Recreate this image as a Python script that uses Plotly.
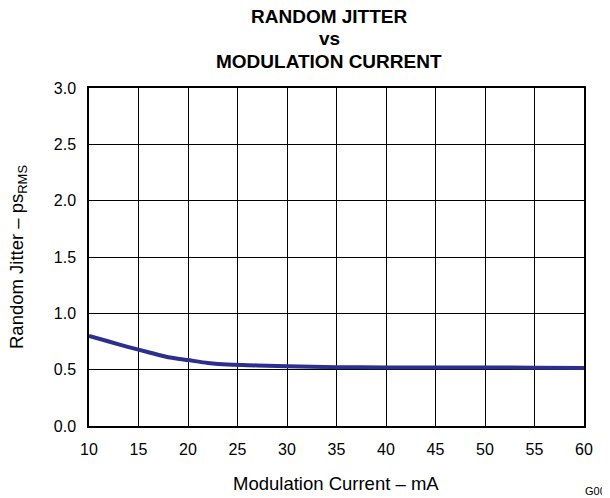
import plotly.graph_objects as go

current_mA = [10, 12, 14, 16, 18, 20, 22, 24, 26, 28, 30, 35, 40, 45, 50, 55, 60]
jitter_ps = [0.80, 0.75, 0.70, 0.655, 0.61, 0.585, 0.56, 0.545, 0.54, 0.535, 0.53, 0.522, 0.52, 0.52, 0.52, 0.518, 0.515]

x_ticks = [10, 15, 20, 25, 30, 35, 40, 45, 50, 55, 60]
y_ticks = [0.0, 0.5, 1.0, 1.5, 2.0, 2.5, 3.0]

title_lines = ["RANDOM JITTER", "vs", "MODULATION CURRENT"]

fig = go.Figure()
fig.add_trace(go.Scatter(x=current_mA, y=jitter_ps, mode="lines",
                         line=dict(color="#2b2f8f", width=4, shape="spline", smoothing=0.6),
                         showlegend=False))

font = "Liberation Sans, Arial, sans-serif"
axis_common = dict(showline=True, linecolor="black", linewidth=1.5, mirror=True,
                   showgrid=True, gridcolor="black", gridwidth=1, zeroline=False,
                   ticks="outside", tickcolor="rgba(0,0,0,0)", ticklen=8,
                   tickfont=dict(size=16, color="black", family=font), automargin=False)

# page body has an 8px default margin, so the figure is 8px smaller
fig.update_layout(
    width=602, height=490,
    margin=dict(l=81, r=26, t=80, b=72),
    paper_bgcolor="white", plot_bgcolor="white",
    xaxis=dict(range=[10, 60], tickvals=x_ticks, ticktext=[str(v) for v in x_ticks], **axis_common),
    yaxis=dict(range=[0, 3], tickvals=y_ticks, ticktext=[f"{v:.1f}" for v in y_ticks], **axis_common),
    font=dict(family=font, color="black"),
)

for i, line in enumerate(title_lines):
    fig.add_annotation(text=f"<b>{line}</b>", x=(329 - 89) / 495, xref="paper",
                       y=1, yref="paper", yshift=88 - (16 + 22.5 * i),
                       showarrow=False, xanchor="center", yanchor="middle",
                       font=dict(size=19, family=font, color="black"))

fig.add_annotation(text="Modulation Current – mA", x=(336 - 89) / 495, xref="paper", y=0, yref="paper",
                   yshift=-57, showarrow=False, xanchor="center", yanchor="middle",
                   font=dict(size=18.5, family=font, color="black"))
fig.add_annotation(text="Random Jitter – ps<sub>RMS</sub>", x=0, xref="paper", y=0.5, yref="paper",
                   xshift=-71, textangle=-90, showarrow=False, xanchor="center", yanchor="middle",
                   font=dict(size=18.5, family=font, color="black"))
fig.add_annotation(text="G005", x=1, xref="paper", y=0, yref="paper",
                   xshift=-1, yshift=-65, showarrow=False, xanchor="left", yanchor="middle",
                   font=dict(size=11, family=font, color="black"))
fig.write_html("out.html")
